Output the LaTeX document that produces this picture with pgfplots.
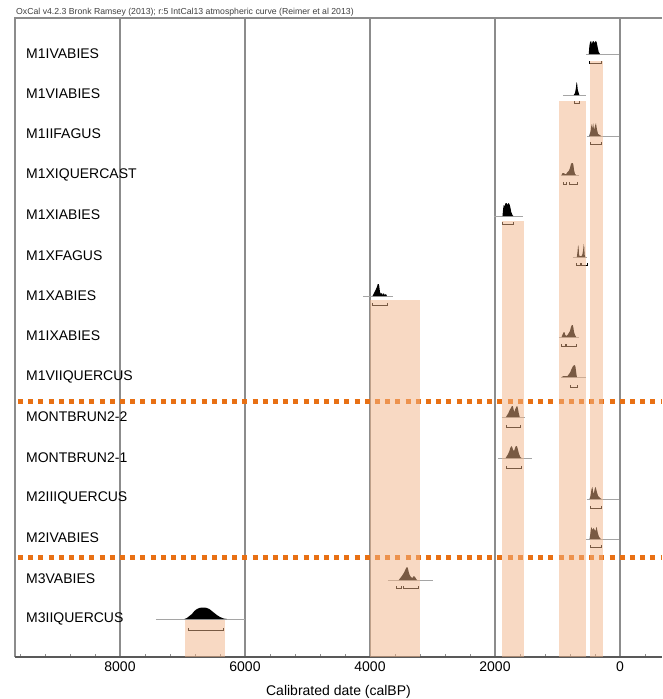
\documentclass[border=0pt]{standalone}
\usepackage{pgfplots}
\pgfplotsset{compat=1.18}
\usepackage{fontspec}
\setmainfont{Liberation Sans}
\definecolor{peach}{RGB}{242,180,135}
\definecolor{dotor}{RGB}{232,112,20}
\definecolor{gridg}{RGB}{140,140,140}
\definecolor{baseg}{RGB}{165,165,165}
\begin{document}
\begin{tikzpicture}[x=1pt,y=1pt]
\useasboundingbox (-15,-42) rectangle (647,657);
\begin{axis}[
  at={(0,0)}, anchor=south west,
  scale only axis, width=647pt, height=639pt,
  xmin=-672, xmax=9680, x dir=reverse,
  ymin=18, ymax=657, y dir=reverse,
  axis line style={draw=none},
  xtick={-2000,0,2000,4000,6000,8000,10000}, ytick=\empty,
  minor x tick num=4,
  xtick pos=bottom, tick align=inside,
  major tick length=5pt, minor tick length=3pt,
  tick style={gridg, line width=0.8pt},
  xmajorgrids, grid style={gridg, line width=1.2pt},
  xticklabel style={font=\fontsize{14}{16}\selectfont, anchor=base, yshift=-14pt},
  /pgf/number format/assume math mode=true,
  /pgf/number format/1000 sep={},
  clip=false,
  base/.style={draw=baseg, line width=1pt},
  dist/.style={fill=black, draw=none},
  brk/.style={draw=black, line width=0.8pt},
  bar/.style={fill=peach, fill opacity=0.5, draw=none},
]
% frame
\draw[gridg, line width=1.2pt] (rel axis cs:0,0) -- (rel axis cs:0,1) -- (rel axis cs:1,1);
\draw[black!65, line width=1.2pt] (rel axis cs:0,0) -- (rel axis cs:1,0);
% dotted separators
\addplot[dotor, line width=5pt, dash pattern=on 5pt off 5.2pt] coordinates {(9632,401) (-672,401)};
\addplot[dotor, line width=5pt, dash pattern=on 5pt off 5.2pt] coordinates {(9632,557.5) (-672,557.5)};
% baselines
\addplot[base] coordinates {(544,54) (16,54)};
\addplot[base] coordinates {(912,95) (544,95)};
\addplot[base] coordinates {(528,136) (16,136)};
\addplot[base] coordinates {(949,175) (656,175)};
\addplot[base] coordinates {(2016,216) (1552,216)};
\addplot[base] coordinates {(752,257) (528,257)};
\addplot[base] coordinates {(4112,296) (3632,296)};
\addplot[base] coordinates {(976,337) (656,337)};
\addplot[base] coordinates {(944,377) (544,377)};
\addplot[base] coordinates {(1893,417) (1520,417)};
\addplot[base] coordinates {(1952,458) (1408,458)};
\addplot[base] coordinates {(533,499) (16,499)};
\addplot[base] coordinates {(544,539) (16,539)};
\addplot[base] coordinates {(3717,580) (2997,580)};
\addplot[base] coordinates {(7424,619) (6000,619)};
% distributions
\addplot[dist] coordinates {(500,54) (490,46) (478,42) (462,41) (450,44) (440,42) (425,41) (410,43) (400,42) (385,41) (370,43) (355,48) (340,52) (320,54)} -- cycle;
\addplot[dist] coordinates {(740,95) (720,93) (705,88) (695,82) (685,84) (675,90) (660,93) (650,95)} -- cycle;
\addplot[dist] coordinates {(490,136) (470,131) (455,124) (445,129) (430,123) (415,130) (400,126) (385,123) (370,129) (350,134) (300,136)} -- cycle;
\addplot[dist] coordinates {(935,175) (920,173) (900,173) (880,174) (860,174) (840,172) (820,171) (800,168) (785,164) (770,163) (755,163) (745,165) (735,170) (720,174) (700,175)} -- cycle;
\addplot[dist] coordinates {(1880,216) (1870,209) (1860,205) (1845,206) (1830,203) (1815,203) (1800,205) (1785,203) (1770,204) (1755,207) (1740,212) (1720,215) (1705,216)} -- cycle;
\addplot[dist] coordinates {(690,257) (680,252) (670,245) (662,247) (655,255) (645,256) (630,256) (615,256) (600,254) (590,250) (580,244) (572,247) (565,255) (555,257)} -- cycle;
\addplot[dist] coordinates {(3960,296) (3935,293) (3910,290) (3890,287) (3875,284) (3860,284) (3850,287) (3840,292) (3825,294) (3810,293) (3795,295) (3780,293) (3765,295) (3745,294) (3730,296)} -- cycle;
\addplot[dist] coordinates {(935,337) (915,334) (900,332) (890,332) (875,335) (860,336) (840,335) (820,333) (800,331) (785,327) (770,325) (755,325) (745,328) (735,332) (720,335) (700,337)} -- cycle;
\addplot[dist] coordinates {(935,377) (900,376) (870,376) (840,376) (815,374) (795,372) (775,369) (750,366) (730,365) (715,366) (705,370) (695,375) (688,377)} -- cycle;
\addplot[dist] coordinates {(1825,417) (1805,415) (1785,413) (1765,410) (1745,408) (1730,406) (1715,406) (1700,410) (1690,412) (1675,409) (1660,407) (1645,406) (1635,408) (1620,413) (1605,417)} -- cycle;
\addplot[dist] coordinates {(1830,458) (1810,456) (1790,454) (1770,451) (1755,448) (1740,446) (1725,447) (1710,450) (1695,451) (1680,448) (1665,446) (1650,446) (1635,449) (1615,454) (1595,457) (1575,458)} -- cycle;
\addplot[dist] coordinates {(485,499) (470,495) (455,489) (440,487) (430,492) (420,494) (405,489) (395,487) (385,488) (370,492) (350,496) (320,498) (295,499)} -- cycle;
\addplot[dist] coordinates {(485,539) (475,534) (465,529) (455,527) (445,530) (435,529) (420,528) (405,530) (390,531) (380,527) (370,528) (355,533) (335,537) (305,539)} -- cycle;
\addplot[dist] coordinates {(3540,580) (3515,578) (3490,576) (3470,574) (3450,572) (3430,569) (3410,567) (3395,568) (3380,572) (3365,575) (3345,577) (3320,578) (3300,576) (3280,577) (3260,579) (3245,580)} -- cycle;
\addplot[dist] coordinates {(6970,619) (6930,618) (6890,616) (6850,614) (6810,611) (6770,609) (6730,608) (6690,607.5) (6650,607.5) (6610,608) (6570,609) (6530,611) (6490,613) (6450,615) (6400,617) (6340,618.5) (6290,619)} -- cycle;
% range brackets
\addplot[brk] coordinates {(496,61) (496,63) (304,63) (304,61)};
\addplot[brk] coordinates {(736,101) (736,103) (656,103) (656,101)};
\addplot[brk] coordinates {(480,142) (480,144) (300,144) (300,142)};
\addplot[brk] coordinates {(912,182) (912,184) (864,184) (864,182)};
\addplot[brk] coordinates {(816,182) (816,184) (688,184) (688,182)};
\addplot[brk] coordinates {(1877,222) (1877,224) (1707,224) (1707,222)};
\addplot[brk] coordinates {(704,263) (704,265) (640,265) (640,263)};
\addplot[brk] coordinates {(610,263) (610,265) (528,265) (528,263)};
\addplot[brk] coordinates {(3957,303) (3957,305) (3728,305) (3728,303)};
\addplot[brk] coordinates {(933,344) (933,346) (870,346) (870,344)};
\addplot[brk] coordinates {(850,344) (850,346) (693,346) (693,344)};
\addplot[brk] coordinates {(800,385) (800,387) (688,387) (688,385)};
\addplot[brk] coordinates {(1824,425) (1824,427) (1600,427) (1600,425)};
\addplot[brk] coordinates {(1824,466) (1824,468) (1573,468) (1573,466)};
\addplot[brk] coordinates {(480,506) (480,508) (300,508) (300,506)};
\addplot[brk] coordinates {(480,545) (480,547) (304,547) (304,545)};
\addplot[brk] coordinates {(3571,586) (3571,588) (3490,588) (3490,586)};
\addplot[brk] coordinates {(3470,586) (3470,588) (3232,588) (3232,586)};
\addplot[brk] coordinates {(6912,628) (6912,630) (6352,630) (6352,628)};
% shaded ranges
\addplot[bar] coordinates {(6960,619.5) (6320,619.5) (6320,657) (6960,657)} -- cycle;
\addplot[bar] coordinates {(4000,300) (3200,300) (3200,657) (4000,657)} -- cycle;
\addplot[bar] coordinates {(1888,221) (1536,221) (1536,657) (1888,657)} -- cycle;
\addplot[bar] coordinates {(976,101) (544,101) (544,657) (976,657)} -- cycle;
\addplot[bar] coordinates {(480,61) (272,61) (272,657) (480,657)} -- cycle;
% row labels
\begin{scope}[every node/.style={anchor=west, font=\fontsize{14}{16}\selectfont, text=black, inner sep=0pt}]
\node at (axis cs:9504,54) {M1IVABIES};
\node at (axis cs:9504,94) {M1VIABIES};
\node at (axis cs:9504,134) {M1IIFAGUS};
\node at (axis cs:9504,175) {M1XIQUERCAST};
\node at (axis cs:9504,215) {M1XIABIES};
\node at (axis cs:9504,256) {M1XFAGUS};
\node at (axis cs:9504,296) {M1XABIES};
\node at (axis cs:9504,336) {M1IXABIES};
\node at (axis cs:9504,377) {M1VIIQUERCUS};
\node at (axis cs:9504,417) {MONTBRUN2-2};
\node at (axis cs:9504,458) {MONTBRUN2-1};
\node at (axis cs:9504,498) {M2IIIQUERCUS};
\node at (axis cs:9504,538) {M2IVABIES};
\node at (axis cs:9504,579) {M3VABIES};
\node at (axis cs:9504,619) {M3IIQUERCUS};
\end{scope}
\node[anchor=base west, font=\fontsize{8.7}{10}\selectfont, text=black!75, inner sep=0pt] at ([xshift=1pt,yshift=4pt]rel axis cs:0,1) {OxCal v4.2.3 Bronk Ramsey (2013); r:5 IntCal13 atmospheric curve (Reimer et al 2013)};
\node[anchor=base, font=\fontsize{14}{16}\selectfont, inner sep=0pt] at ([yshift=-38pt]rel axis cs:0.5,0) {Calibrated date (calBP)};
\end{axis}
\end{tikzpicture}
\end{document}
